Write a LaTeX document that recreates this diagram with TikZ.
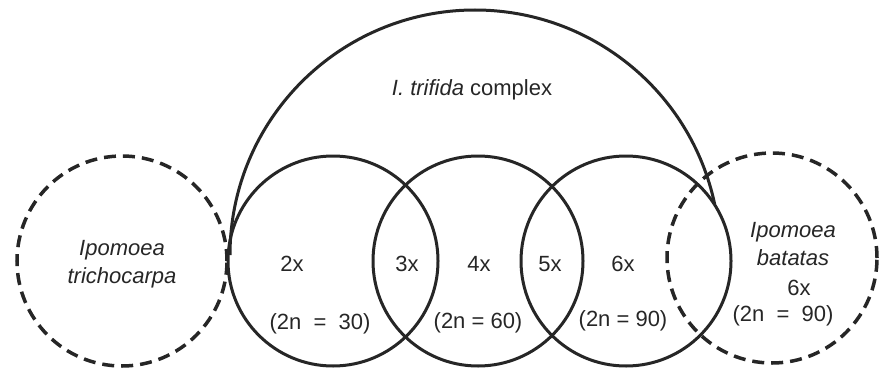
\documentclass[tikz,border=0pt]{standalone}
\usepackage{fontspec}
\setmainfont{Liberation Sans}
\begin{document}
\begin{tikzpicture}[x=1pt,y=-1pt,
  solidring/.style={circle,draw=black!85,line width=3pt,minimum size=210pt,inner sep=0pt},
  dashring/.style={circle,draw=black!85,line width=3.5pt,dash pattern=on 12pt off 7pt,minimum size=210pt,inner sep=0pt},
  lbl/.style={font=\fontsize{22}{26}\selectfont,text=black!85,inner sep=0pt},
  ilbl/.style={lbl,font=\fontsize{22}{28}\selectfont\itshape,align=center}]
\useasboundingbox (0,0) rectangle (882,369);
% rings
\node[dashring] (tri) at (122,261) {};
\node[solidring] (c2) at (333,261) {};
\node[solidring] (c4) at (478,261) {};
\node[solidring] (c6) at (626,261) {};
\node[dashring] (bat) at (772,258) {};
% complex arc
\coordinate (arcL) at (230,255);
\draw[black!85,line width=3pt] (arcL) arc[start angle=180,end angle=348,radius=245];
% labels
\node[lbl] (title) at (472,90) {\textit{I. trifida} complex};
\node[ilbl] (tlab) at (122,264) {Ipomoea\\trichocarpa};
\node[lbl] (l2) at (292,264) {2x};
\node[lbl] (n30) at (320,324) {(2n\ \ =\ \ 30)};
\node[lbl] (l3) at (407,264) {3x};
\node[lbl] (l4) at (479,264) {4x};
\node[lbl] (n60) at (478,323) {(2n\ =\ 60)};
\node[lbl] (l5) at (550,264) {5x};
\node[lbl] (l6) at (623,264) {6x};
\node[lbl] (n90) at (623,321) {(2n = 90)};
\node[ilbl] (blab) at (793,244) {Ipomoea\\batatas};
\node[lbl] (b6) at (799,288) {6x};
\node[lbl] (bn90) at (783,316) {(2n\ \ =\ \ 90)};
\end{tikzpicture}
\end{document}
